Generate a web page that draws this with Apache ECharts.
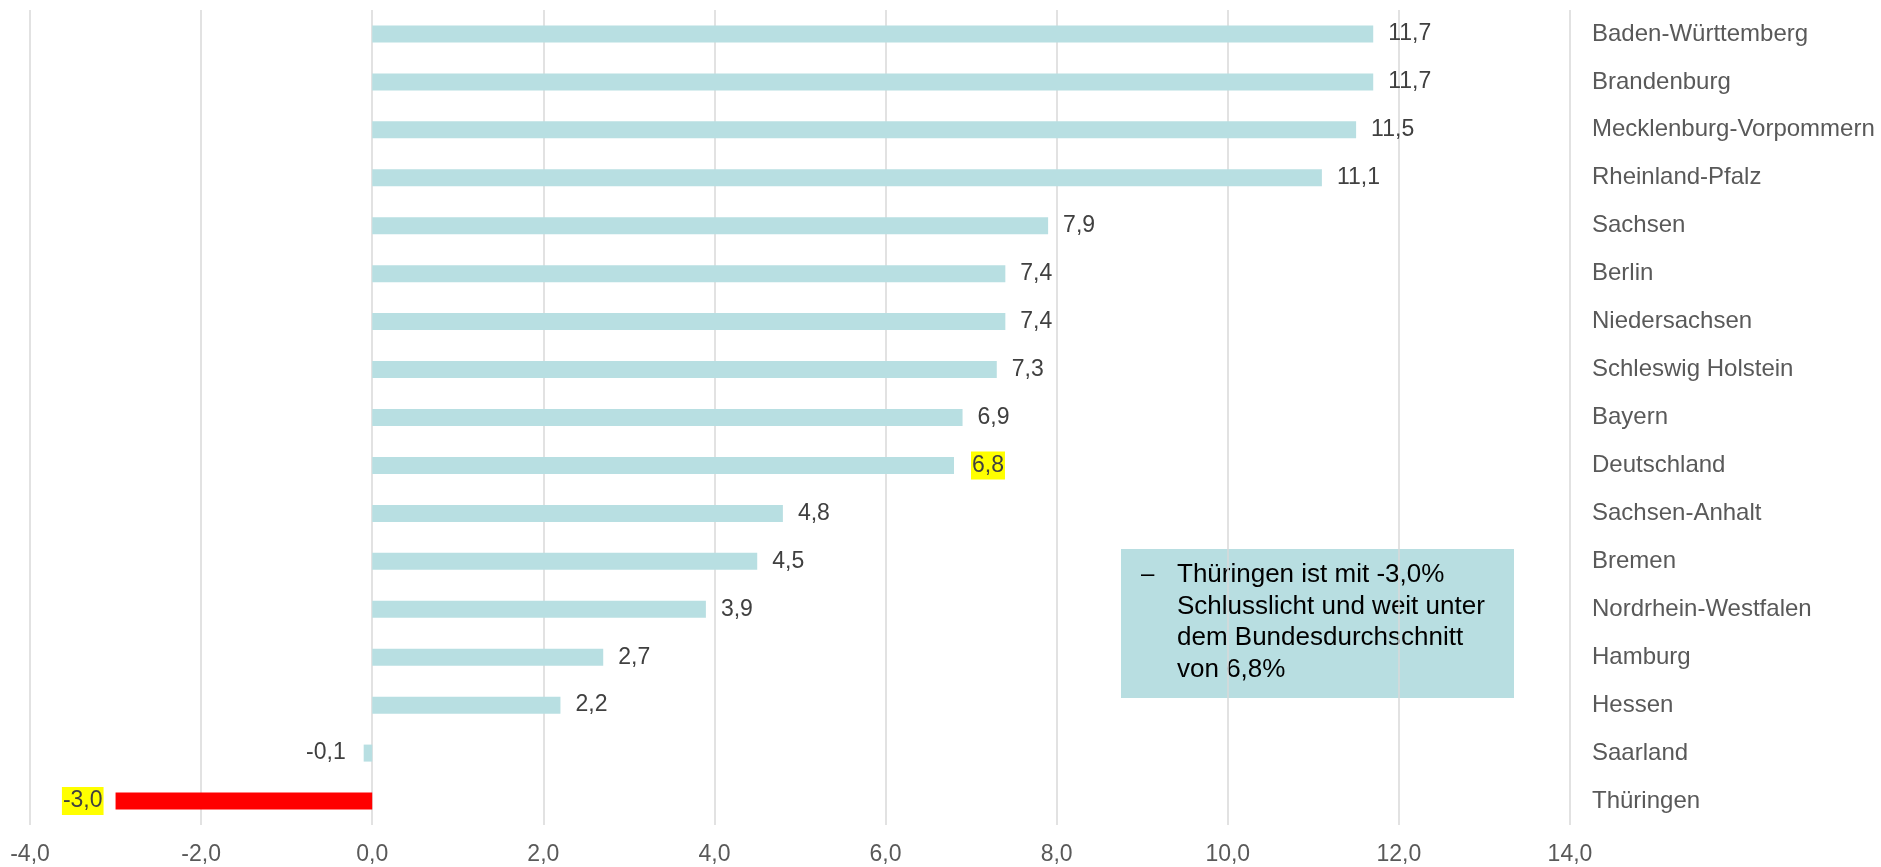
<!DOCTYPE html>
<html>
<head>
<meta charset="utf-8">
<script src="https://cdn.jsdelivr.net/npm/echarts@6/dist/echarts.min.js"></script>
<style>
  html, body { margin: 0; padding: 0; background: #fff; }
  #main { width: 1881px; height: 867px; }
</style>
</head>
<body>
<div id="main"></div>
<script>
// Daten (von oben nach unten)
var laender = ['Baden-Württemberg', 'Brandenburg', 'Mecklenburg-Vorpommern', 'Rheinland-Pfalz',
    'Sachsen', 'Berlin', 'Niedersachsen', 'Schleswig Holstein', 'Bayern', 'Deutschland',
    'Sachsen-Anhalt', 'Bremen', 'Nordrhein-Westfalen', 'Hamburg', 'Hessen', 'Saarland', 'Thüringen'];
var werte = [11.7, 11.7, 11.5, 11.1, 7.9, 7.4, 7.4, 7.3, 6.9, 6.8, 4.8, 4.5, 3.9, 2.7, 2.2, -0.1, -3.0];
var achsenTicks = [-4, -2, 0, 2, 4, 6, 8, 10, 12, 14];

var fontName = '"Liberation Sans", Arial, sans-serif';

function fmt(v) {
    return Number(v).toFixed(1).replace('.', ',');
}

var myChart = echarts.init(document.getElementById('main'));

var barData = [];
for (var i = 0; i < werte.length; i++) {
    var item = { value: werte[i] };
    var name = laender[i];
    if (name === 'Thüringen') {
        item.itemStyle = { color: '#ff0000' };
        item.label = { backgroundColor: '#ffff00', padding: [4, 1, 1, 1], position: 'left', distance: 12 };
    } else if (name === 'Deutschland') {
        item.label = { backgroundColor: '#ffff00', padding: [4, 1, 1, 1], distance: 17 };
    } else if (werte[i] < 0) {
        item.label = { position: 'left', distance: 18 };
    }
    barData.push(item);
}

var option = {
    animation: false,
    textStyle: { fontFamily: fontName },
    grid: {
        left: 30,
        right: 311,
        top: 10,
        bottom: 42
    },
    xAxis: {
        type: 'value',
        min: achsenTicks[0],
        max: achsenTicks[achsenTicks.length - 1],
        interval: 2,
        axisLine: { show: false },
        axisTick: { show: false },
        splitLine: { lineStyle: { color: '#d9d9d9', width: 1.5 } },
        axisLabel: {
            color: '#595959',
            fontSize: 23,
            fontFamily: fontName,
            margin: 18,
            formatter: function (v) { return fmt(v); }
        }
    },
    yAxis: {
        type: 'category',
        inverse: true,
        position: 'right',
        data: laender,
        axisLine: { show: false },
        axisTick: { show: false },
        axisLabel: {
            color: '#595959',
            fontSize: 24,
            fontFamily: fontName,
            margin: 22,
            padding: [3, 0, 0, 0],
            align: 'left'
        }
    },
    series: [{
        type: 'bar',
        data: barData,
        barWidth: 17,
        itemStyle: { color: '#b8dfe2' },
        label: {
            show: true,
            position: 'right',
            distance: 15,
            padding: [3, 0, 0, 0],
            color: '#404040',
            fontSize: 23,
            fontFamily: fontName,
            formatter: function (p) { return fmt(p.value); }
        }
    }],
    graphic: [{
        type: 'group',
        left: 1121,
        top: 549,
        children: [{
            type: 'rect',
            shape: { x: 0, y: 0, width: 393, height: 149 },
            style: { fill: '#b8dee1' }
        }, {
            type: 'text',
            x: 20,
            y: 13,
            style: { text: '–', fill: '#000', font: '24px ' + fontName }
        }, {
            type: 'text',
            x: 56,
            y: 10,
            style: {
                text: 'Thüringen ist mit -3,0%\nSchlusslicht und weit unter\ndem Bundesdurchschnitt\nvon 6,8%',
                fill: '#000',
                font: '26px ' + fontName,
                lineHeight: 31.7
            }
        }]
    }]
};

myChart.setOption(option);

window.onresize = function () {
    myChart.resize();
};
</script>
</body>
</html>
